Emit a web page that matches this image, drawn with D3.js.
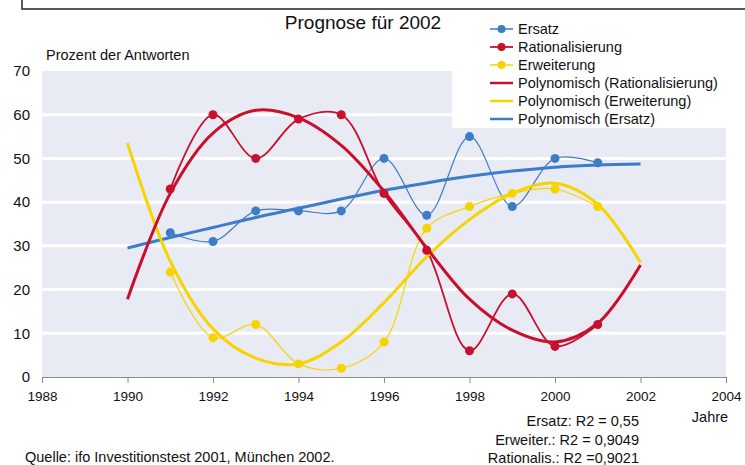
<!DOCTYPE html>
<html>
<head>
<meta charset="utf-8">
<script src="https://cdn.jsdelivr.net/npm/d3@7/dist/d3.min.js"></script>
<style>
  body { margin: 0; background: #fff; }
  svg { display: block; font-family: "Liberation Sans", Arial, sans-serif; }
</style>
</head>
<body>
<svg width="745" height="465"></svg>
<script>
// data
var years = [1991, 1992, 1993, 1994, 1995, 1996, 1997, 1998, 1999, 2000, 2001];
var ersatz = [33, 31, 38, 38, 38, 50, 37, 55, 39, 50, 49];
var rational = [43, 60, 50, 59, 60, 42, 29, 6, 19, 7, 12];
var erweit = [24, 9, 12, 3, 2, 8, 34, 39, 42, 43, 39];

var trendYears = [1990, 1991, 1992, 1993, 1994, 1995, 1996, 1997, 1998, 1999, 2000, 2001, 2002];
var trendErsatz = [29.5, 31.9, 34.2, 36.5, 38.6, 40.7, 42.7, 44.4, 45.9, 47.1, 48.0, 48.5, 48.7];
var trendRational = [17.8, 42, 55.8, 61, 59.3, 53, 42.5, 29.5, 17.8, 10.7, 8, 12.3, 25.6];
var trendErweit = [53.5, 26.5, 11, 4.3, 3, 8, 17, 27.5, 36, 42, 44.3, 39.5, 26.2];

var xTicks = [1988, 1990, 1992, 1994, 1996, 1998, 2000, 2002, 2004];
var yTicks = [0, 10, 20, 30, 40, 50, 60, 70];

var blue = '#3d7cc6', red = '#c8102e', yellow = '#f7d400';
var fontSize = 14.5;

var svg = d3.select('svg');

var x = d3.scaleLinear().domain([1988, 2004]).range([42, 726]);
var y = d3.scaleLinear().domain([0, 70]).range([377, 71]);

// frame line at top
svg.append('path')
  .attr('d', 'M22,0V9H745')
  .attr('fill', 'none')
  .attr('stroke', '#222')
  .attr('stroke-width', 1.5);

// plot background
svg.append('rect')
  .attr('x', x(1988)).attr('y', y(70))
  .attr('width', x(2004) - x(1988)).attr('height', y(0) - y(70))
  .attr('fill', '#e8eaf4');

// white grid lines
svg.selectAll('.grid')
  .data(yTicks.filter(function (d) { return d > 0 && d < 70; }))
  .enter().append('line')
  .attr('class', 'grid')
  .attr('x1', x(1988)).attr('x2', x(2004))
  .attr('y1', function (d) { return y(d); })
  .attr('y2', function (d) { return y(d); })
  .attr('stroke', '#fff')
  .attr('stroke-width', 3);

// legend box covers top right of plot
svg.append('rect')
  .attr('x', 452).attr('y', 11)
  .attr('width', 293).attr('height', 117)
  .attr('fill', '#fff');

// x axis
var xAxis = svg.append('g')
  .attr('transform', 'translate(0,' + y(0) + ')')
  .call(d3.axisBottom(x).tickValues(xTicks).tickFormat(d3.format('d')).tickSize(6).tickPadding(8));
xAxis.select('.domain').attr('stroke', '#8a8a8a');
xAxis.selectAll('.tick line').attr('stroke', '#8a8a8a');
xAxis.selectAll('text').attr('font-size', 13.5).attr('fill', '#111')
  .attr('font-family', '"Liberation Sans", Arial, sans-serif');

// y axis labels only
var yAxis = svg.append('g')
  .attr('transform', 'translate(' + x(1988) + ',0)')
  .call(d3.axisLeft(y).tickValues(yTicks).tickSize(0).tickPadding(12));
yAxis.select('.domain').remove();
yAxis.selectAll('text').attr('font-size', 15).attr('fill', '#111')
  .attr('font-family', '"Liberation Sans", Arial, sans-serif');

// lines
var smooth = d3.line()
  .x(function (d) { return x(d[0]); })
  .y(function (d) { return y(d[1]); })
  .curve(d3.curveCatmullRom);

function pairs(xs, ys) {
  return xs.map(function (v, i) { return [v, ys[i]]; });
}

var trends = [
  { vals: trendErsatz, color: blue },
  { vals: trendErweit, color: yellow },
  { vals: trendRational, color: red }
];
var series = [
  { vals: ersatz, color: blue, w: 1.2 },
  { vals: erweit, color: yellow, w: 1.2 },
  { vals: rational, color: red, w: 1.8 }
];

series.forEach(function (s) {
  svg.append('path')
    .attr('d', smooth(pairs(years, s.vals)))
    .attr('fill', 'none')
    .attr('stroke', s.color)
    .attr('stroke-width', s.w);
});

trends.forEach(function (t) {
  svg.append('path')
    .attr('d', smooth(pairs(trendYears, t.vals)))
    .attr('fill', 'none')
    .attr('stroke', t.color)
    .attr('stroke-width', 3);
});

series.forEach(function (s) {
  svg.selectAll(null)
    .data(pairs(years, s.vals))
    .enter().append('circle')
    .attr('cx', function (d) { return x(d[0]); })
    .attr('cy', function (d) { return y(d[1]); })
    .attr('r', 4.5)
    .attr('fill', s.color);
});

// legend
var legendItems = [
  { name: 'Ersatz', color: blue, dot: true, w: 1.5 },
  { name: 'Rationalisierung', color: red, dot: true, w: 1.8 },
  { name: 'Erweiterung', color: yellow, dot: true, w: 1.5 },
  { name: 'Polynomisch (Rationalisierung)', color: red, dot: false, w: 2.5 },
  { name: 'Polynomisch (Erweiterung)', color: yellow, dot: false, w: 2.5 },
  { name: 'Polynomisch (Ersatz)', color: blue, dot: false, w: 2.5 }
];

var legend = svg.selectAll('.legend')
  .data(legendItems)
  .enter().append('g')
  .attr('class', 'legend')
  .attr('transform', function (d, i) { return 'translate(0,' + (29 + i * 18) + ')'; });

legend.append('line')
  .attr('x1', 490).attr('x2', 513)
  .attr('stroke', function (d) { return d.color; })
  .attr('stroke-width', function (d) { return d.w; });

legend.filter(function (d) { return d.dot; })
  .append('circle')
  .attr('cx', 501.5).attr('r', 4)
  .attr('fill', function (d) { return d.color; });

legend.append('text')
  .attr('x', 518).attr('dy', '.35em')
  .attr('font-size', fontSize).attr('fill', '#111')
  .text(function (d) { return d.name; });

// titles and notes
svg.append('text')
  .attr('x', 363).attr('y', 29)
  .attr('text-anchor', 'middle')
  .attr('font-size', 19).attr('fill', '#111')
  .text('Prognose für 2002');

svg.append('text')
  .attr('x', 46).attr('y', 60)
  .attr('font-size', fontSize).attr('fill', '#111')
  .text('Prozent der Antworten');

svg.append('text')
  .attr('x', 710).attr('y', 422)
  .attr('text-anchor', 'middle')
  .attr('font-size', fontSize).attr('fill', '#111')
  .text('Jahre');

var r2 = ['Ersatz: R2 = 0,55', 'Erweiter.: R2 = 0,9049', 'Rationalis.: R2 =0,9021'];
svg.selectAll('.r2')
  .data(r2)
  .enter().append('text')
  .attr('class', 'r2')
  .attr('x', 639)
  .attr('y', function (d, i) { return 426 + i * 18.5; })
  .attr('text-anchor', 'end')
  .attr('font-size', fontSize).attr('fill', '#111')
  .text(function (d) { return d; });

svg.append('text')
  .attr('x', 25).attr('y', 462)
  .attr('font-size', fontSize).attr('fill', '#111')
  .text('Quelle: ifo Investitionstest 2001, München 2002.');
</script>
</body>
</html>
